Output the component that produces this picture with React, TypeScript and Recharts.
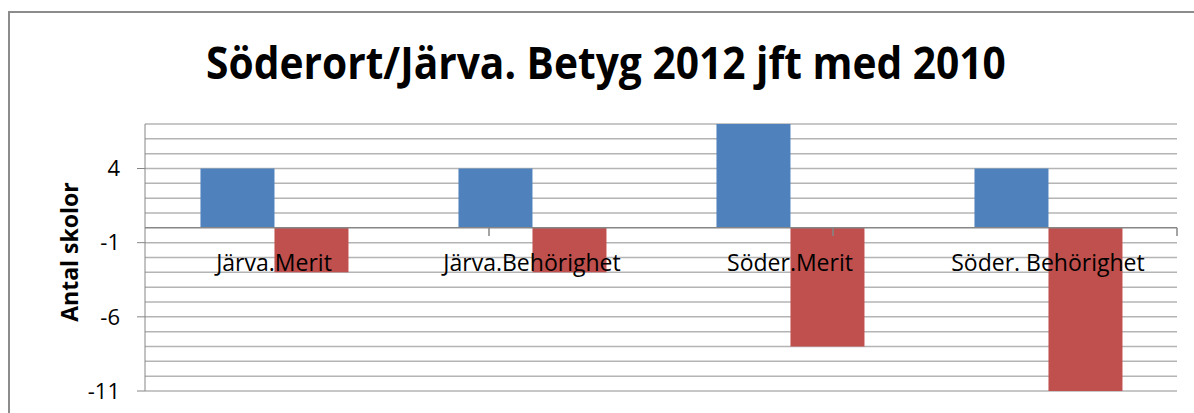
import React from 'react';
import { BarChart, Bar, Line, XAxis, YAxis, ReferenceLine, LabelList } from 'recharts';

// kategorier och värden (förändring antal skolor 2012 mot 2010)
const categories = ['Järva.Merit', 'Järva.Behörighet', 'Söder.Merit', 'Söder. Behörighet'];
const serie1 = [4, 4, 7, 4];
const serie2 = [-3, -3, -8, -11];
const yTicks = [4, -1, -6, -11];
const gridTicks = [-11, -10, -9, -8, -7, -6, -5, -4, -3, -2, -1, 1, 2, 3, 4, 5, 6, 7];
const categoryEdges = [1, 2, 3, 4];

const data = categories.map((name, i) => ({
  name,
  serie1: serie1[i],
  serie2: serie2[i],
  base: 0,
}));

const font = '"Open Sans", "Liberation Sans", sans-serif';

const CategoryLabel = (props: any) => {
  const { x, y, index } = props;
  return (
    <text x={x} y={y + 43} textAnchor="middle" fontSize={23} fontFamily={font} fill="#000">
      {categories[index]}
    </text>
  );
};

export default function App() {
  return (
    <div style={{ position: 'absolute', left: 0, top: 0, width: 1194, height: 413, background: '#fff', overflow: 'hidden' }}>
      <div style={{ position: 'absolute', left: 8, top: 11, width: 1300, height: 500, borderTop: '2px solid #8c8c8c', borderLeft: '2px solid #8c8c8c' }} />
      <div
        style={{
          position: 'absolute', left: 0, width: 1212, top: 36, textAlign: 'center',
          fontFamily: font, fontWeight: 700, fontSize: 44, lineHeight: '52px', color: '#000',
          transform: 'scaleX(0.925)',
        }}
      >
        Söderort/Järva. Betyg 2012 jft med 2010
      </div>
      <div
        style={{
          position: 'absolute', left: 69, top: 252, transform: 'translate(-50%, -50%) rotate(-90deg)', whiteSpace: 'nowrap',
          fontFamily: font, fontWeight: 700, fontSize: 23, color: '#000',
        }}
      >
        Antal skolor
      </div>
      <div style={{ position: 'absolute', left: 0, top: 0 }}>
        <BarChart width={1194} height={413} data={data} margin={{ top: 124, right: 17, bottom: 22, left: 85 }} barCategoryGap="21.5%" barGap={0}>
          <XAxis dataKey="name" hide />
          <XAxis xAxisId="edge" type="number" domain={[0, 4]} hide />
          <YAxis
            domain={[-11, 7]}
            ticks={yTicks}
            interval={0}
            width={60}
            allowDataOverflow
            stroke="#868686"
            tickSize={8}
            tickMargin={17}
            tick={{ fill: '#000', fontSize: 22, fontFamily: font }}
          />
          {gridTicks.map((t) => (
            <ReferenceLine key={t} y={t} stroke="#b4b4b4" strokeWidth={1.5} zIndex={-100} />
          ))}
          <Bar dataKey="serie1" fill="#4F81BD" isAnimationActive={false} />
          <Bar dataKey="serie2" fill="#C0504D" isAnimationActive={false} />
          <ReferenceLine y={0} stroke="#868686" strokeWidth={1.5} />
          {categoryEdges.map((e) => (
            <ReferenceLine
              key={e}
              xAxisId="edge"
              segment={[{ x: e, y: 0 }, { x: e, y: -0.55 }]}
              stroke="#868686"
              strokeWidth={1.5}
            />
          ))}
          <Line dataKey="base" stroke="none" dot={false} activeDot={false} isAnimationActive={false}>
            <LabelList dataKey="name" content={<CategoryLabel />} />
          </Line>
        </BarChart>
      </div>
    </div>
  );
}
